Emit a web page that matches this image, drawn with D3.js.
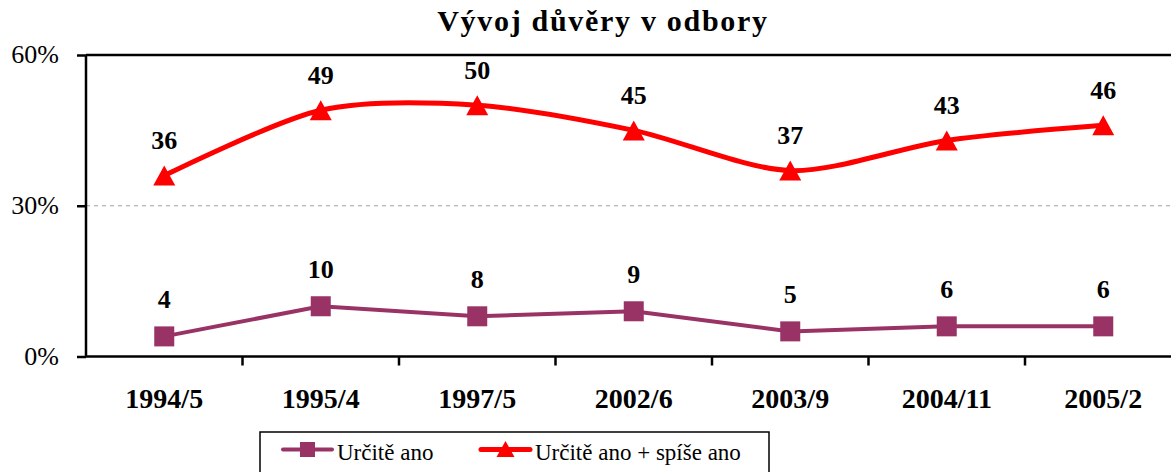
<!DOCTYPE html>
<html>
<head>
<meta charset="utf-8">
<script src="https://cdn.jsdelivr.net/npm/d3@7"></script>
<style>
  body { margin: 0; background: #fff; }
  svg { display: block; }
  text { font-family: "Liberation Serif", "Times New Roman", serif; fill: #000; }
</style>
</head>
<body>
<script>
// chart data
const categories = ["1994/5", "1995/4", "1997/5", "2002/6", "2003/9", "2004/11", "2005/2"];
const urciteAno = [4, 10, 8, 9, 5, 6, 6];
const urciteSpiseAno = [36, 49, 50, 45, 37, 43, 46];
const yTicks = [0, 30, 60];
const seriesNames = ["Určitě ano", "Určitě ano + spíše ano"];

let width = 1171
let height = 472
let plotLeft = 86, plotTop = 55, plotBottom = 356.5
let band = 156.5
let serif = "'Liberation Serif', 'Times New Roman', serif"

let svg = d3.select("body").append("svg")
    .attr("width", width)
    .attr("height", height)

let x = d3.scaleBand()
    .domain(categories)
    .range([plotLeft, plotLeft + band * categories.length])
    .padding(0)

let y = d3.scaleLinear()
    .domain([0, 60])
    .range([plotBottom, plotTop])

let cx = d => x(d) + x.bandwidth() / 2

// gridline at 30%
svg.append("line")
    .attr("x1", plotLeft).attr("x2", width)
    .attr("y1", y(30)).attr("y2", y(30))
    .attr("stroke", "#a0a0a0")
    .attr("stroke-dasharray", "4,4")
    .attr("stroke-width", 1)

// top border
svg.append("line")
    .attr("x1", plotLeft).attr("x2", width)
    .attr("y1", plotTop).attr("y2", plotTop)
    .attr("stroke", "#000").attr("stroke-width", 2.5)

// y axis
let yAxis = svg.append("g")
    .attr("transform", `translate(${plotLeft},0)`)
    .call(d3.axisLeft(y).tickValues(yTicks).tickSize(9).tickPadding(18).tickFormat(d => d + "%"))
yAxis.attr("font-family", null).attr("font-size", null)
yAxis.select(".domain").attr("stroke-width", 2.5).attr("d", `M0,${plotTop}V${plotBottom}`)
yAxis.selectAll(".tick line").attr("stroke-width", 2.5)
yAxis.selectAll("text")
    .style("font-family", serif)
    .style("font-size", "26px")
    .attr("dy", "0.3em")

// x axis
let xAxis = svg.append("g")
    .attr("transform", `translate(0,${plotBottom})`)
    .call(d3.axisBottom(x).tickSize(0))
xAxis.attr("font-family", null).attr("font-size", null)
xAxis.select(".domain").attr("stroke-width", 2.5).attr("d", `M${plotLeft},0H${width}`)
xAxis.selectAll("text")
    .attr("y", 51.5).attr("dy", 0)
    .style("font-family", serif)
    .style("font-size", "28px")
    .style("font-weight", "bold")
// tick marks between categories
xAxis.selectAll(".sep")
    .data(categories.slice(1))
    .enter().append("line")
    .attr("class", "sep")
    .attr("x1", d => x(d)).attr("x2", d => x(d))
    .attr("y1", 0).attr("y2", 9)
    .attr("stroke", "#000").attr("stroke-width", 2.5)

// red smoothed line
let redLine = d3.line()
    .x((d, i) => cx(categories[i]))
    .y(d => y(d))
    .curve(d3.curveCardinal.tension(0.15))
svg.append("path")
    .datum(urciteSpiseAno)
    .attr("d", redLine)
    .attr("fill", "none")
    .attr("stroke", "#ff0000")
    .attr("stroke-width", 5)

// purple straight line
let purpleLine = d3.line()
    .x((d, i) => cx(categories[i]))
    .y(d => y(d))
svg.append("path")
    .datum(urciteAno)
    .attr("d", purpleLine)
    .attr("fill", "none")
    .attr("stroke", "#993366")
    .attr("stroke-width", 4)

// triangle markers, w x h box centred on the point
function triPath(w, h) {
    return `M0,${-h / 2}L${w / 2},${h / 2}L${-w / 2},${h / 2}Z`
}
svg.selectAll(".tri")
    .data(urciteSpiseAno)
    .enter().append("path")
    .attr("class", "tri")
    .attr("d", triPath(22, 20))
    .attr("transform", (d, i) => `translate(${cx(categories[i])},${y(d)})`)
    .attr("fill", "#ff0000")

svg.selectAll(".sq")
    .data(urciteAno)
    .enter().append("rect")
    .attr("class", "sq")
    .attr("x", (d, i) => cx(categories[i]) - 10)
    .attr("y", d => y(d) - 10)
    .attr("width", 20).attr("height", 20)
    .attr("fill", "#993366")

// data labels
function labels(data, cls, off) {
    svg.selectAll("." + cls)
        .data(data)
        .enter().append("text")
        .attr("class", cls)
        .attr("x", (d, i) => cx(categories[i]))
        .attr("y", d => y(d) - off)
        .attr("text-anchor", "middle")
        .style("font-family", serif)
        .style("font-size", "26px")
        .style("font-weight", "bold")
        .text(d => d)
}
labels(urciteSpiseAno, "lblR", 26.5)
labels(urciteAno, "lblP", 28.5)

// title
svg.append("text")
    .attr("x", 603).attr("y", 31)
    .attr("text-anchor", "middle")
    .style("font-family", serif)
    .style("font-size", "30px")
    .style("font-weight", "bold")
    .style("letter-spacing", "1.7px")
    .text("Vývoj důvěry v odbory")

// legend
let lg = svg.append("g")
lg.append("rect")
    .attr("x", 260).attr("y", 432)
    .attr("width", 509).attr("height", 60)
    .attr("fill", "#fff").attr("stroke", "#000").attr("stroke-width", 1.5)

let legItems = [
    {name: seriesNames[0], color: "#993366", x0: 283, sym: "sq"},
    {name: seriesNames[1], color: "#ff0000", x0: 481, sym: "tri"}
]
legItems.forEach(it => {
    lg.append("line")
        .attr("x1", it.x0).attr("x2", it.x0 + 49)
        .attr("y1", 449.5).attr("y2", 449.5)
        .attr("stroke", it.color).attr("stroke-width", it.sym == "tri" ? 5 : 4)
        .attr("stroke-linecap", "round")
    if (it.sym == "sq") {
        lg.append("rect")
            .attr("x", it.x0 + 24.5 - 7.5).attr("y", 442)
            .attr("width", 15).attr("height", 15)
            .attr("fill", it.color)
    } else {
        lg.append("path")
            .attr("d", triPath(18, 16))
            .attr("transform", `translate(${it.x0 + 24.5},449)`)
            .attr("fill", it.color)
    }
    lg.append("text")
        .attr("x", it.x0 + 54).attr("y", 460)
        .attr("font-family", serif)
        .style("font-family", serif)
        .style("font-size", "23px")
        .text(it.name)
})
</script>
</body>
</html>
